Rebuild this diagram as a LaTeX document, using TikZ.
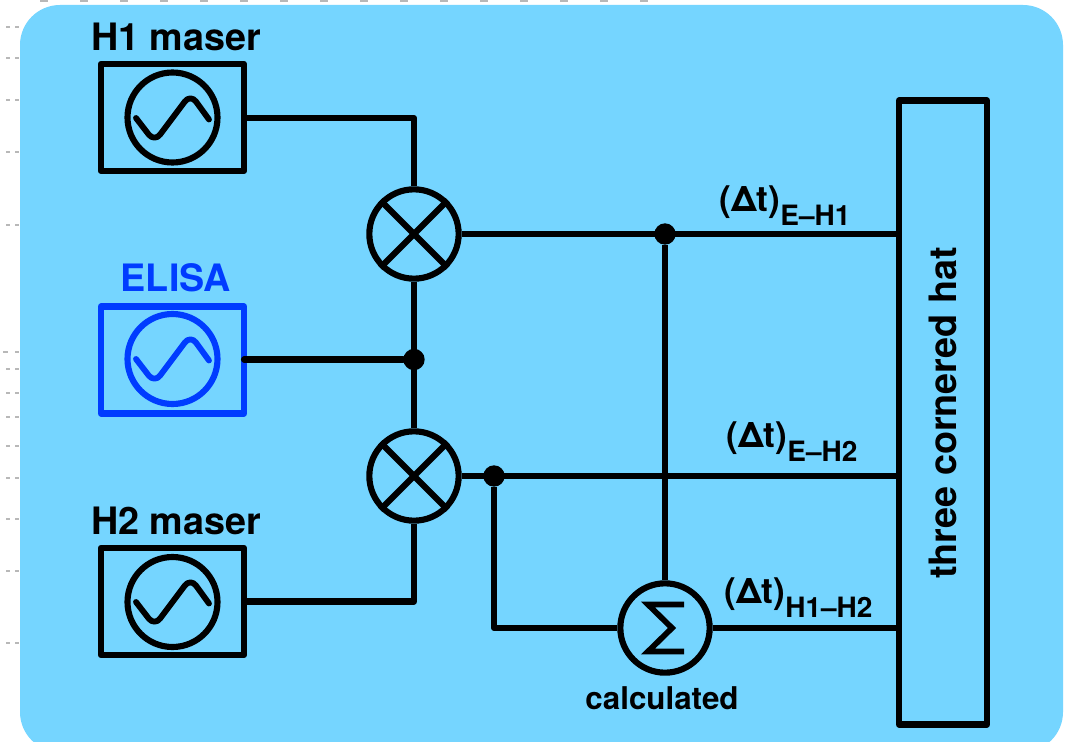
\documentclass[tikz,border=0pt]{standalone}
\usepackage{fontspec}
\setmainfont{TeX Gyre Heros}
\tikzset{
  x=0.75pt,y=-0.75pt,
  wire/.style={line width=4.6pt,line cap=round,line join=round,black},
  oscbox/.style={line width=4.7pt,line join=round},
  blob/.style={circle,fill=black,inner sep=0pt,minimum size=16pt},
  ring/.style={circle,draw=black,line width=4.6pt,fill=none,inner sep=0pt,minimum size=67pt},
  lab/.style={font=\bfseries\fontsize{28.3}{30}\selectfont,inner sep=0pt},
  dtlab/.style={font=\bfseries\fontsize{26.5}{28}\selectfont,inner sep=0pt,anchor=base west},
  noise/.style={line width=2pt,black!28}
}
\definecolor{panel}{RGB}{117,213,255}
\definecolor{elisablue}{RGB}{0,60,255}
\newcommand{\oscsine}[3]{\draw[#3,line width=4.4pt,line cap=round,line join=round,rounded corners=7pt]
  (#1-36.5,#2) -- (#1-18,#2+24) -- (#1+18,#2-24) -- (#1+36.5,#2+1.5);}
\newcommand{\dtsub}[1]{\raisebox{-0.42em}{\fontsize{21}{22}\selectfont #1}}
\begin{document}
\begin{tikzpicture}
\useasboundingbox (0,0) rectangle (1074,742);
\clip (0,0) rectangle (1074,742);
\fill[white] (0,0) rectangle (1074,742);
% scan residue in the margin
\foreach \yy in {27,58,100,152,225,369,393,417,446,478,519,571,643}
  \draw[noise] (6,\yy) -- (10,\yy) (15,\yy) -- (19,\yy);
\draw[noise] (3,352) -- (8,352) (15,352) -- (19,352);
\foreach \xx in {40,80,120,160,200,240,280,320,360,400,440,480,520,560,600,640}
  \draw[noise] (\xx,1) -- (\xx+8,1);
\fill[panel,rounded corners=30pt] (20,5) rectangle (1063,752);
% wires
\coordinate (tH1) at (414,118);
\coordinate (tH2) at (414,601.5);
\coordinate (sb) at (494,628);
\node[ring] (mixa) at (414,234) {};
\node[ring] (mixb) at (414,476) {};
\node[ring] (sum) at (665,628) {};
\node[blob] (ja) at (665,234) {};
\node[blob] (jb) at (494,476) {};
\node[blob] (jc) at (414,359.5) {};
\node[draw,oscbox,minimum width=107.25pt,minimum height=80.25pt,inner sep=0pt] (h1) at (172.5,117.5) {};
\node[draw=elisablue,oscbox,minimum width=107.25pt,minimum height=80.25pt,inner sep=0pt] (el) at (172.5,360) {};
\node[draw,oscbox,minimum width=107.25pt,minimum height=80.25pt,inner sep=0pt] (h2) at (172.5,601.5) {};
\node[draw,oscbox,minimum width=66pt,minimum height=468pt,inner sep=0pt] (hat) at (943,412.5) {};
\draw[wire,line cap=butt] (h1.east |- tH1) -- (tH1) -- (mixa.north);
\draw[wire,line cap=butt] (h2.east |- tH2) -- (tH2) -- (mixb.south);
\draw[wire,line cap=butt] (mixa.south) -- (mixb.north);
\draw[wire] (244,359.5) -- (jc);
\draw[wire,line cap=butt] (mixa.east) -- (hat.west |- mixa.east);
\draw[wire,line cap=butt] (mixb.east) -- (hat.west |- mixb.east);
\draw[wire,line cap=butt] (ja) -- (sum.north);
\draw[wire,line cap=butt] (jb) -- (sb) -- (sum.west);
\draw[wire,line cap=butt] (sum.east) -- (hat.west |- sum.east);
% mixers
\draw[wire,line cap=butt] (mixa.45) -- (mixa.225) (mixa.135) -- (mixa.315);
\draw[wire,line cap=butt] (mixb.45) -- (mixb.225) (mixb.135) -- (mixb.315);
% oscillators
\node[ring,minimum size=67.5pt] (ca) at (172.5,117.5) {};
\node[ring,minimum size=67.5pt,draw=elisablue] (cb) at (172.5,359) {};
\node[ring,minimum size=67.5pt] (cc) at (172.5,602) {};
\oscsine{172.5}{118}{black}
\oscsine{172.5}{359}{elisablue}
\oscsine{172.5}{602}{black}
% sigma
\draw[line width=4.3pt,line join=miter,miter limit=10,shift={(sum.center)}] (19,-23.5) -- (-17,-23.5) -- (7,0) -- (-17,23.5) -- (19,23.5);
% labels
\node[lab] (l1) at (176,37) {H1 maser};
\node[lab,text=elisablue] (l2) at (176,278) {ELISA};
\node[lab] (l3) at (176,521) {H2 maser};
\node[lab,font=\bfseries\fontsize{23.5}{25}\selectfont] (l4) at (662,698.5) {calculated};
\node[lab,rotate=90] (l5) at (943,413) {three cornered hat};
\node[dtlab] (d1) at (719,211) {(Δt)\dtsub{E–H1}};
\node[dtlab] (d2) at (726,447) {(Δt)\dtsub{E–H2}};
\node[dtlab] (d3) at (724,603) {(Δt)\dtsub{H1–H2}};
\end{tikzpicture}
\end{document}
